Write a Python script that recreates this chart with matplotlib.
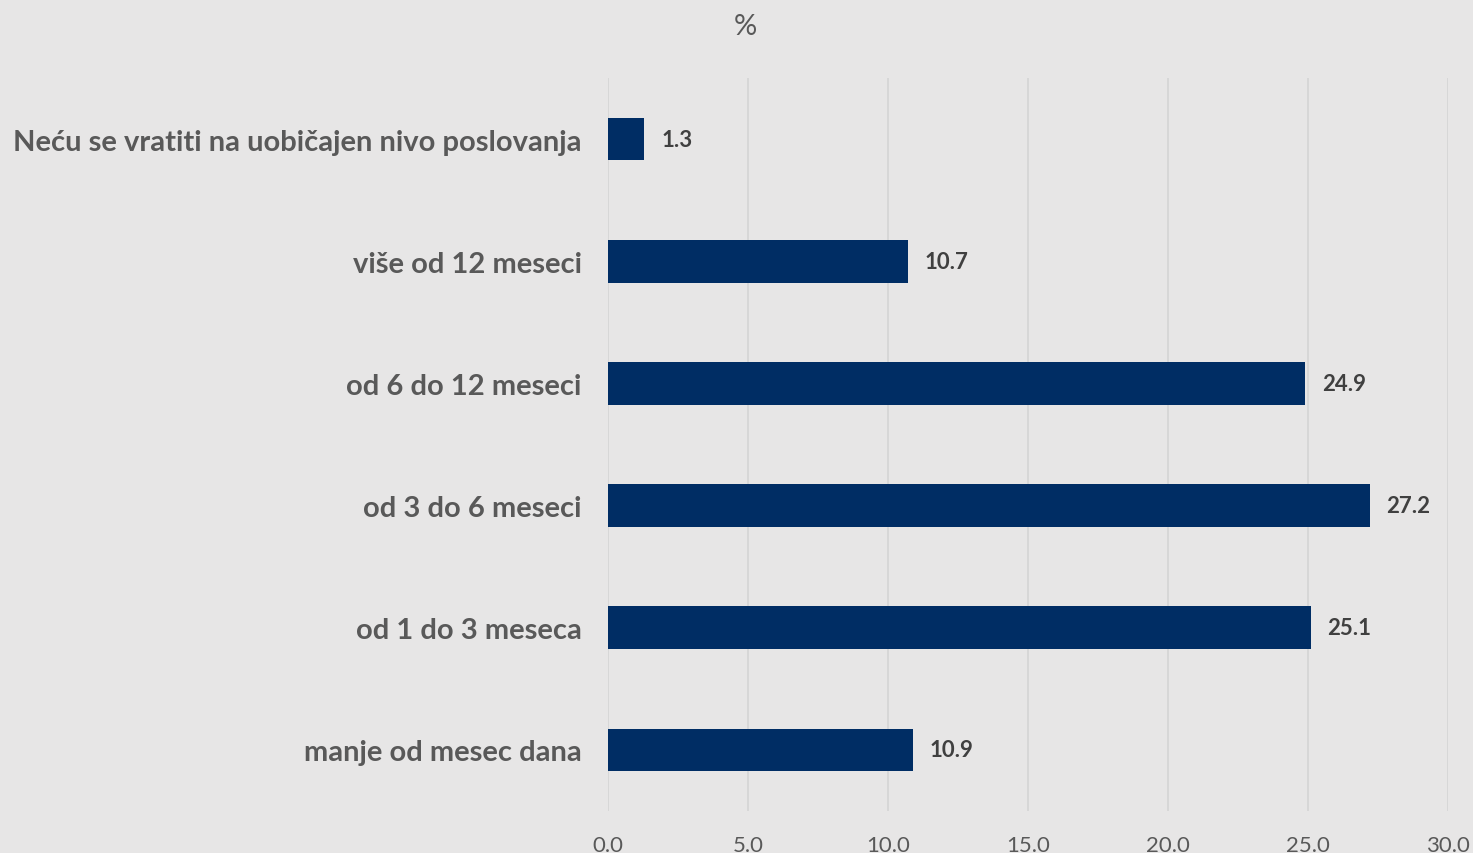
import matplotlib.pyplot as plt
import numpy as np

plt.rcParams['font.family'] = ['Lato', 'DejaVu Sans']

categories = ['Neću se vratiti na uobičajen nivo poslovanja', 'više od 12 meseci',
              'od 6 do 12 meseci', 'od 3 do 6 meseci', 'od 1 do 3 meseca',
              'manje od mesec dana']
values = [1.3, 10.7, 24.9, 27.2, 25.1, 10.9]
xticks = [0, 5, 10, 15, 20, 25, 30]

bg = '#E7E6E6'
fig = plt.figure(figsize=(14.73, 8.54), dpi=100, facecolor=bg)
ax = fig.add_axes([0.4128, 0.0492, 0.5703, 0.8583], facecolor=bg)

y = np.arange(len(categories))
ax.barh(y, values, height=0.35, color='#002D64', zorder=3)
for yi, v in zip(y, values):
    ax.annotate(f'{v:.1f}', (v, yi), xytext=(12, 0), textcoords='offset points',
                va='center', ha='left', fontsize=16, fontweight='bold', color='#404040')

ax.set_ylim(len(categories) - 0.5, -0.5)
ax.set_xlim(0, 30)
ax.set_yticks(y)
ax.set_yticklabels(categories, fontsize=21, fontweight='bold', color='#595959')
ax.set_xticks(xticks)
ax.set_xticklabels([f'{t:.1f}' for t in xticks], fontsize=16, color='#595959')
ax.tick_params(axis='both', length=0)
ax.tick_params(axis='x', pad=17)
ax.tick_params(axis='y', pad=19)
ax.grid(axis='x', color='#D4D4D4', linewidth=1.2, zorder=0)
for s in ax.spines.values():
    s.set_visible(False)

fig.text(0.506, 0.968, '%', ha='center', va='center', fontsize=21, color='#595959')

fig.savefig('out.png', dpi=100, facecolor=bg)
